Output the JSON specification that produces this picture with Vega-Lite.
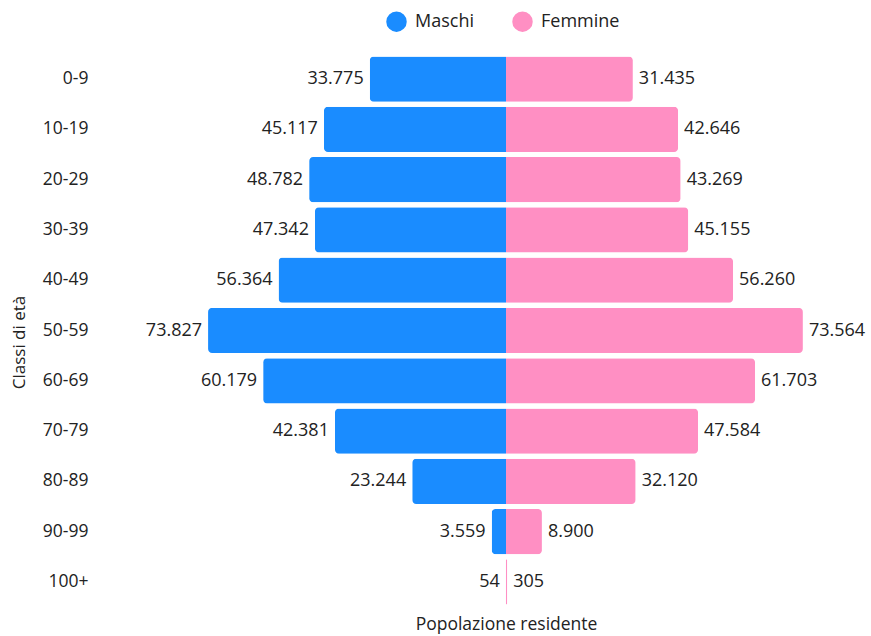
{
  "$schema": "https://vega.github.io/schema/vega-lite/v6.json",
  "width": 766,
  "height": 553,
  "autosize": "none",
  "padding": {"left": 100, "top": 54, "right": 5, "bottom": 29},
  "background": "white",
  "config": {
    "view": {"stroke": null},
    "font": "Open Sans",
    "locale": {"number": {"decimal": ",", "thousands": ".", "grouping": [3], "currency": ["€", ""]}}
  },
  "data": {
    "values": [
      {"eta": "0-9", "sesso": "Maschi", "valore": 33775},
      {"eta": "10-19", "sesso": "Maschi", "valore": 45117},
      {"eta": "20-29", "sesso": "Maschi", "valore": 48782},
      {"eta": "30-39", "sesso": "Maschi", "valore": 47342},
      {"eta": "40-49", "sesso": "Maschi", "valore": 56364},
      {"eta": "50-59", "sesso": "Maschi", "valore": 73827},
      {"eta": "60-69", "sesso": "Maschi", "valore": 60179},
      {"eta": "70-79", "sesso": "Maschi", "valore": 42381},
      {"eta": "80-89", "sesso": "Maschi", "valore": 23244},
      {"eta": "90-99", "sesso": "Maschi", "valore": 3559},
      {"eta": "100+", "sesso": "Maschi", "valore": 54},
      {"eta": "0-9", "sesso": "Femmine", "valore": 31435},
      {"eta": "10-19", "sesso": "Femmine", "valore": 42646},
      {"eta": "20-29", "sesso": "Femmine", "valore": 43269},
      {"eta": "30-39", "sesso": "Femmine", "valore": 45155},
      {"eta": "40-49", "sesso": "Femmine", "valore": 56260},
      {"eta": "50-59", "sesso": "Femmine", "valore": 73564},
      {"eta": "60-69", "sesso": "Femmine", "valore": 61703},
      {"eta": "70-79", "sesso": "Femmine", "valore": 47584},
      {"eta": "80-89", "sesso": "Femmine", "valore": 32120},
      {"eta": "90-99", "sesso": "Femmine", "valore": 8900},
      {"eta": "100+", "sesso": "Femmine", "valore": 305}
    ]
  },
  "transform": [
    {"calculate": "datum.sesso == 'Maschi' ? -datum.valore : datum.valore", "as": "pos"}
  ],
  "encoding": {
    "y": {
      "field": "eta",
      "type": "nominal",
      "sort": ["0-9", "10-19", "20-29", "30-39", "40-49", "50-59", "60-69", "70-79", "80-89", "90-99", "100+"],
      "scale": {"paddingInner": 0.1, "paddingOuter": 0.05},
      "axis": {
        "title": "Classi di età",
        "titleFont": "Open Sans",
        "titleFontSize": 17,
        "titleFontWeight": "normal",
        "titleColor": "#222",
        "titlePadding": 14,
        "titleY": 288,
        "labelFontSize": 17.5,
        "labelColor": "#222",
        "labelPadding": 12,
        "domain": false,
        "ticks": false
      }
    },
    "x": {
      "field": "pos",
      "type": "quantitative",
      "scale": {"domain": [-100600, 89200], "nice": false, "zero": false},
      "axis": {
        "title": "Popolazione residente",
        "titleFontSize": 17.5,
        "titleFontWeight": "normal",
        "titleColor": "#222",
        "titlePadding": 8,
        "titleX": 406,
        "labels": false,
        "ticks": false,
        "domain": false,
        "grid": false
      }
    }
  },
  "layer": [
    {
      "mark": {"type": "bar", "cornerRadius": 4},
      "encoding": {
        "color": {
          "field": "sesso",
          "type": "nominal",
          "scale": {"domain": ["Maschi", "Femmine"], "range": ["#1a8cff", "#ff8fc3"]},
          "legend": {
            "title": null,
            "orient": "none",
            "legendX": 286,
            "legendY": -43,
            "direction": "horizontal",
            "symbolType": "circle",
            "symbolSize": 420,
            "symbolStrokeWidth": 0,
            "labelFontSize": 18,
            "labelColor": "#222",
            "columnPadding": 38,
            "labelOffset": 8
          }
        }
      }
    },
    {
      "transform": [{"filter": "datum.sesso == 'Maschi'"}],
      "mark": {"type": "text", "align": "right", "dx": -6, "fontSize": 18, "color": "#222"},
      "encoding": {"text": {"field": "valore", "type": "quantitative", "format": ",d"}}
    },
    {
      "transform": [{"filter": "datum.sesso == 'Femmine'"}],
      "mark": {"type": "text", "align": "left", "dx": 6, "fontSize": 18, "color": "#222"},
      "encoding": {"text": {"field": "valore", "type": "quantitative", "format": ",d"}}
    }
  ]
}
